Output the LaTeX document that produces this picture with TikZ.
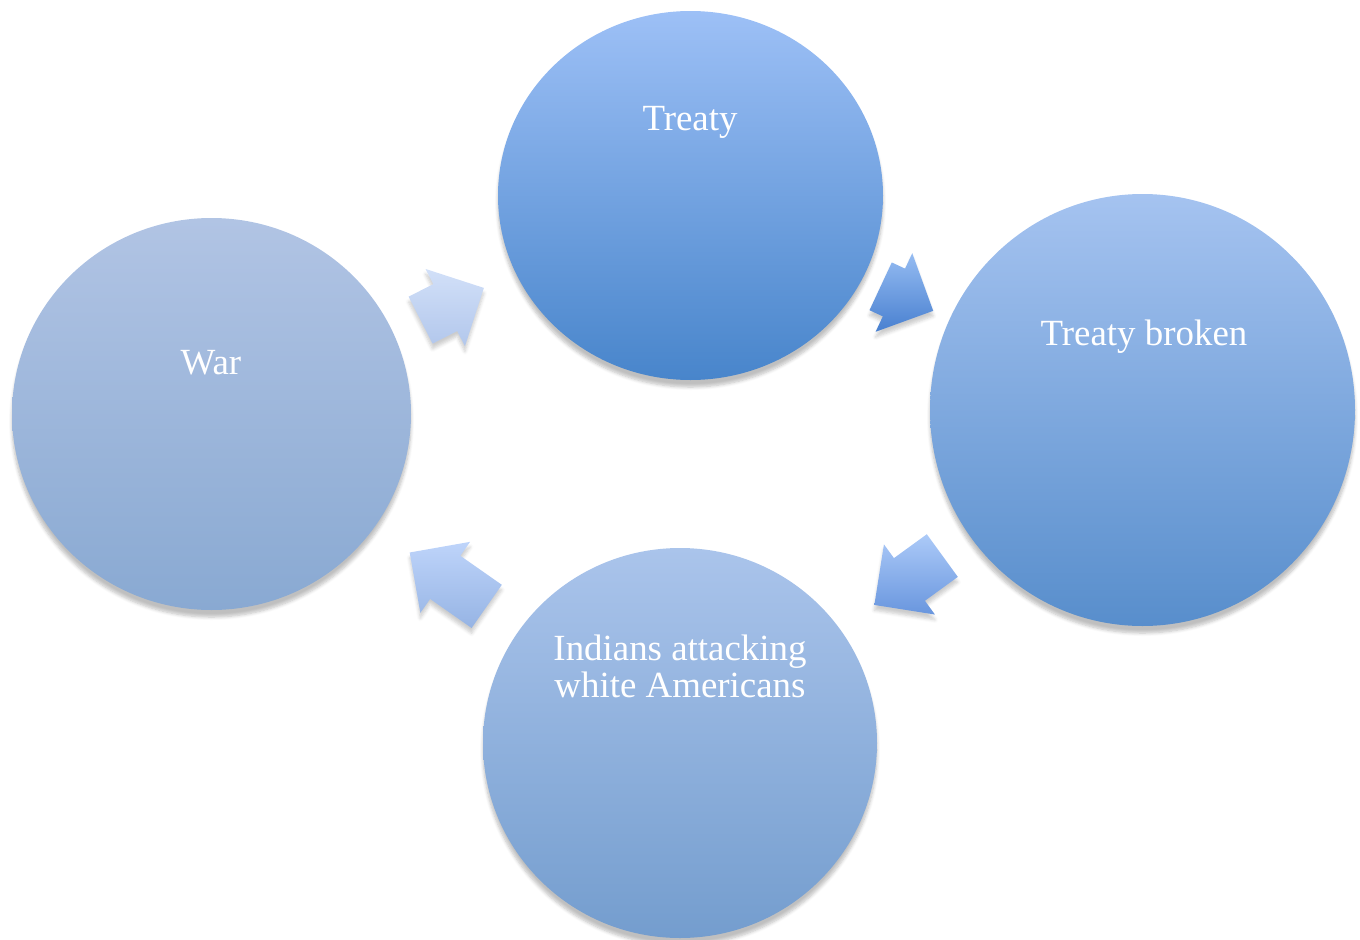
\documentclass[tikz,border=0pt]{standalone}
\usepackage{fontspec}
\setmainfont{Liberation Serif}
\usetikzlibrary{shapes.geometric,shapes.arrows,shadows.blur}
\def\px{0.02cm}
\definecolor{treatytop}{RGB}{157,192,246}
\definecolor{treatybot}{RGB}{72,133,203}
\definecolor{brokentop}{RGB}{165,195,240}
\definecolor{brokenbot}{RGB}{88,142,204}
\definecolor{indianstop}{RGB}{170,196,235}
\definecolor{indiansbot}{RGB}{116,157,206}
\definecolor{wartop}{RGB}{177,196,228}
\definecolor{warbot}{RGB}{137,169,210}
\definecolor{aonetop}{RGB}{210,224,248}
\definecolor{aonebot}{RGB}{178,199,236}
\definecolor{atwotop}{RGB}{150,188,242}
\definecolor{atwobot}{RGB}{72,128,208}
\definecolor{athreetop}{RGB}{172,202,248}
\definecolor{athreebot}{RGB}{105,150,222}
\definecolor{afourtop}{RGB}{190,212,250}
\definecolor{afourbot}{RGB}{150,180,228}
\tikzset{
  stage/.style={ellipse,inner sep=0pt,
    blur shadow={shadow xshift=0pt,shadow yshift=-4pt,shadow blur steps=6,shadow opacity=25}},
  stagetext/.style={text=white,font=\fontsize{21}{21}\selectfont,align=center},
  cyclearrow/.style={single arrow,inner xsep=0pt,inner ysep=26*\px,
    single arrow head extend=17*\px,
    blur shadow={shadow xshift=0pt,shadow yshift=-3pt,shadow blur steps=5,shadow opacity=20}}
}
\begin{document}
\begin{tikzpicture}[x=\px,y=-\px]
\useasboundingbox (0,0) rectangle (1360,940);
% the four stages
\node[stage,minimum width=385*\px,minimum height=369*\px,top color=treatytop,bottom color=treatybot] (treaty) at (690.5,195.5) {};
\node[stage,minimum width=425*\px,minimum height=432*\px,top color=brokentop,bottom color=brokenbot] (broken) at (1142.5,410) {};
\node[stage,minimum width=394*\px,minimum height=390*\px,top color=indianstop,bottom color=indiansbot] (indians) at (680,743) {};
\node[stage,minimum width=399*\px,minimum height=392*\px,top color=wartop,bottom color=warbot] (war) at (211.5,414) {};
% labels
\node[stagetext,anchor=base] (treatylbl) at (690,130) {Treaty};
\node[stagetext,anchor=base] (brokenlbl) at (1144,345) {Treaty broken};
\node[stagetext] (indianslbl) at (680,666) {Indians attacking\\white Americans};
\node[stagetext,anchor=base] (warlbl) at (211,374) {War};
% arrows between the stages
\node[cyclearrow,minimum height=71*\px,top color=aonetop,bottom color=aonebot,rotate=27] (wartotreaty) at (440.5,310) {};
\node[cyclearrow,minimum height=58*\px,top color=atwotop,bottom color=atwobot,rotate=-25] (treatytobroken) at (895,293) {};
\node[cyclearrow,minimum height=84*\px,top color=athreetop,bottom color=athreebot,rotate=216] (brokentoindians) at (919,572.5) {};
\node[cyclearrow,minimum height=94*\px,top color=afourtop,bottom color=afourbot,rotate=145] (indianstowar) at (459,587) {};
\end{tikzpicture}
\end{document}
